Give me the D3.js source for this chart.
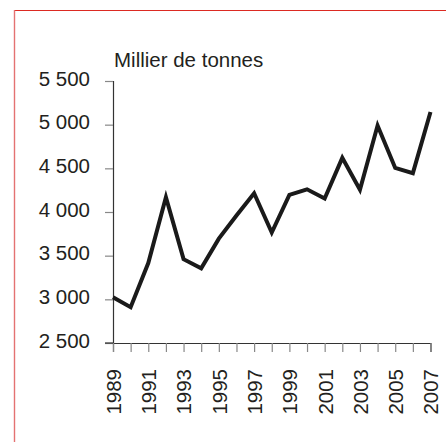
<!DOCTYPE html>
<html>
<head>
<meta charset="utf-8">
<script src="https://cdn.jsdelivr.net/npm/d3@7"></script>
<style>
  body { margin: 0; background: #fff; }
  text { font-family: "Liberation Sans", Arial, sans-serif; fill: #231f20; }
</style>
</head>
<body>
<div id="chart"></div>
<script>
// Data
var years = [1989, 1990, 1991, 1992, 1993, 1994, 1995, 1996, 1997, 1998,
             1999, 2000, 2001, 2002, 2003, 2004, 2005, 2006, 2007];
var tonnes = [3025, 2910, 3415, 4170, 3460, 3355, 3695, 3960, 4215, 3765,
              4195, 4260, 4155, 4620, 4255, 4990, 4505, 4445, 5145];
var yTicks = [2500, 3000, 3500, 4000, 4500, 5000, 5500];
var unitLabel = "Millier de tonnes";

var W = 446, H = 442;
var margin = {top: 81, right: 15, bottom: 99, left: 113};
var width = 430.5 - margin.left,
    height = 343 - margin.top;

var svg = d3.select("#chart").append("svg")
    .attr("width", W)
    .attr("height", H);

// red frame (only top and left visible)
svg.append("line")
    .attr("x1", 14).attr("x2", W).attr("y1", 10.5).attr("y2", 10.5)
    .attr("stroke", "#dc2a22").attr("stroke-width", 1.2);
svg.append("line")
    .attr("x1", 14.5).attr("x2", 14.5).attr("y1", 10).attr("y2", H)
    .attr("stroke", "#e47272").attr("stroke-width", 1.4);

var g = svg.append("g")
    .attr("transform", "translate(" + margin.left + "," + margin.top + ")");

var x = d3.scaleLinear()
    .domain([d3.min(years), d3.max(years)])
    .range([0, width]);

var y = d3.scaleLinear()
    .domain([2500, 5500])
    .range([height, 0]);

var fmt = function(d) { return d3.format(",")(d).replace(",", " "); };

// y axis
var yAxis = g.append("g")
    .call(d3.axisLeft(y).tickValues(yTicks).tickFormat(fmt).tickSize(8).tickPadding(15));
yAxis.select(".domain").attr("stroke", "#333").attr("stroke-width", 1.2);
yAxis.selectAll(".tick line").attr("stroke", "#888").attr("stroke-width", 1.2);
yAxis.selectAll(".tick text")
    .attr("font-size", "20.5px")
    .attr("font-family", "'Liberation Sans', Arial, sans-serif")
    .attr("fill", "#231f20")
    .attr("dy", "0.2em");

// x axis
var xAxis = g.append("g")
    .attr("transform", "translate(0," + height + ")")
    .call(d3.axisBottom(x)
        .tickValues(years)
        .tickFormat(function(d) { return d % 2 === 1 ? d : ""; })
        .tickSize(9)
        .tickSizeOuter(9)
        .tickPadding(15));
xAxis.select(".domain").attr("stroke", "#333").attr("stroke-width", 1.2);
xAxis.selectAll(".tick line").attr("stroke", "#888").attr("stroke-width", 1.2);
xAxis.selectAll(".tick text")
    .attr("font-size", "20.5px")
    .attr("font-family", "'Liberation Sans', Arial, sans-serif")
    .attr("fill", "#231f20")
    .attr("transform", "rotate(-90)")
    .attr("text-anchor", "end")
    .attr("x", -26)
    .attr("y", 0)
    .attr("dy", "0.36em");

// extend x axis to the left under the 2500 tick
g.append("line")
    .attr("x1", -8).attr("x2", 0)
    .attr("y1", height).attr("y2", height)
    .attr("stroke", "#333").attr("stroke-width", 1.2);

// unit label
svg.append("text")
    .attr("x", 114)
    .attr("y", 66.5)
    .attr("font-size", "20.5px")
    .text(unitLabel);

// the line
var line = d3.line()
    .x(function(d, i) { return x(years[i]); })
    .y(function(d) { return y(d); });

g.append("path")
    .datum(tonnes)
    .attr("d", line)
    .attr("fill", "none")
    .attr("stroke", "#1a1a1a")
    .attr("stroke-width", 4)
    .attr("stroke-linejoin", "miter");
</script>
</body>
</html>
